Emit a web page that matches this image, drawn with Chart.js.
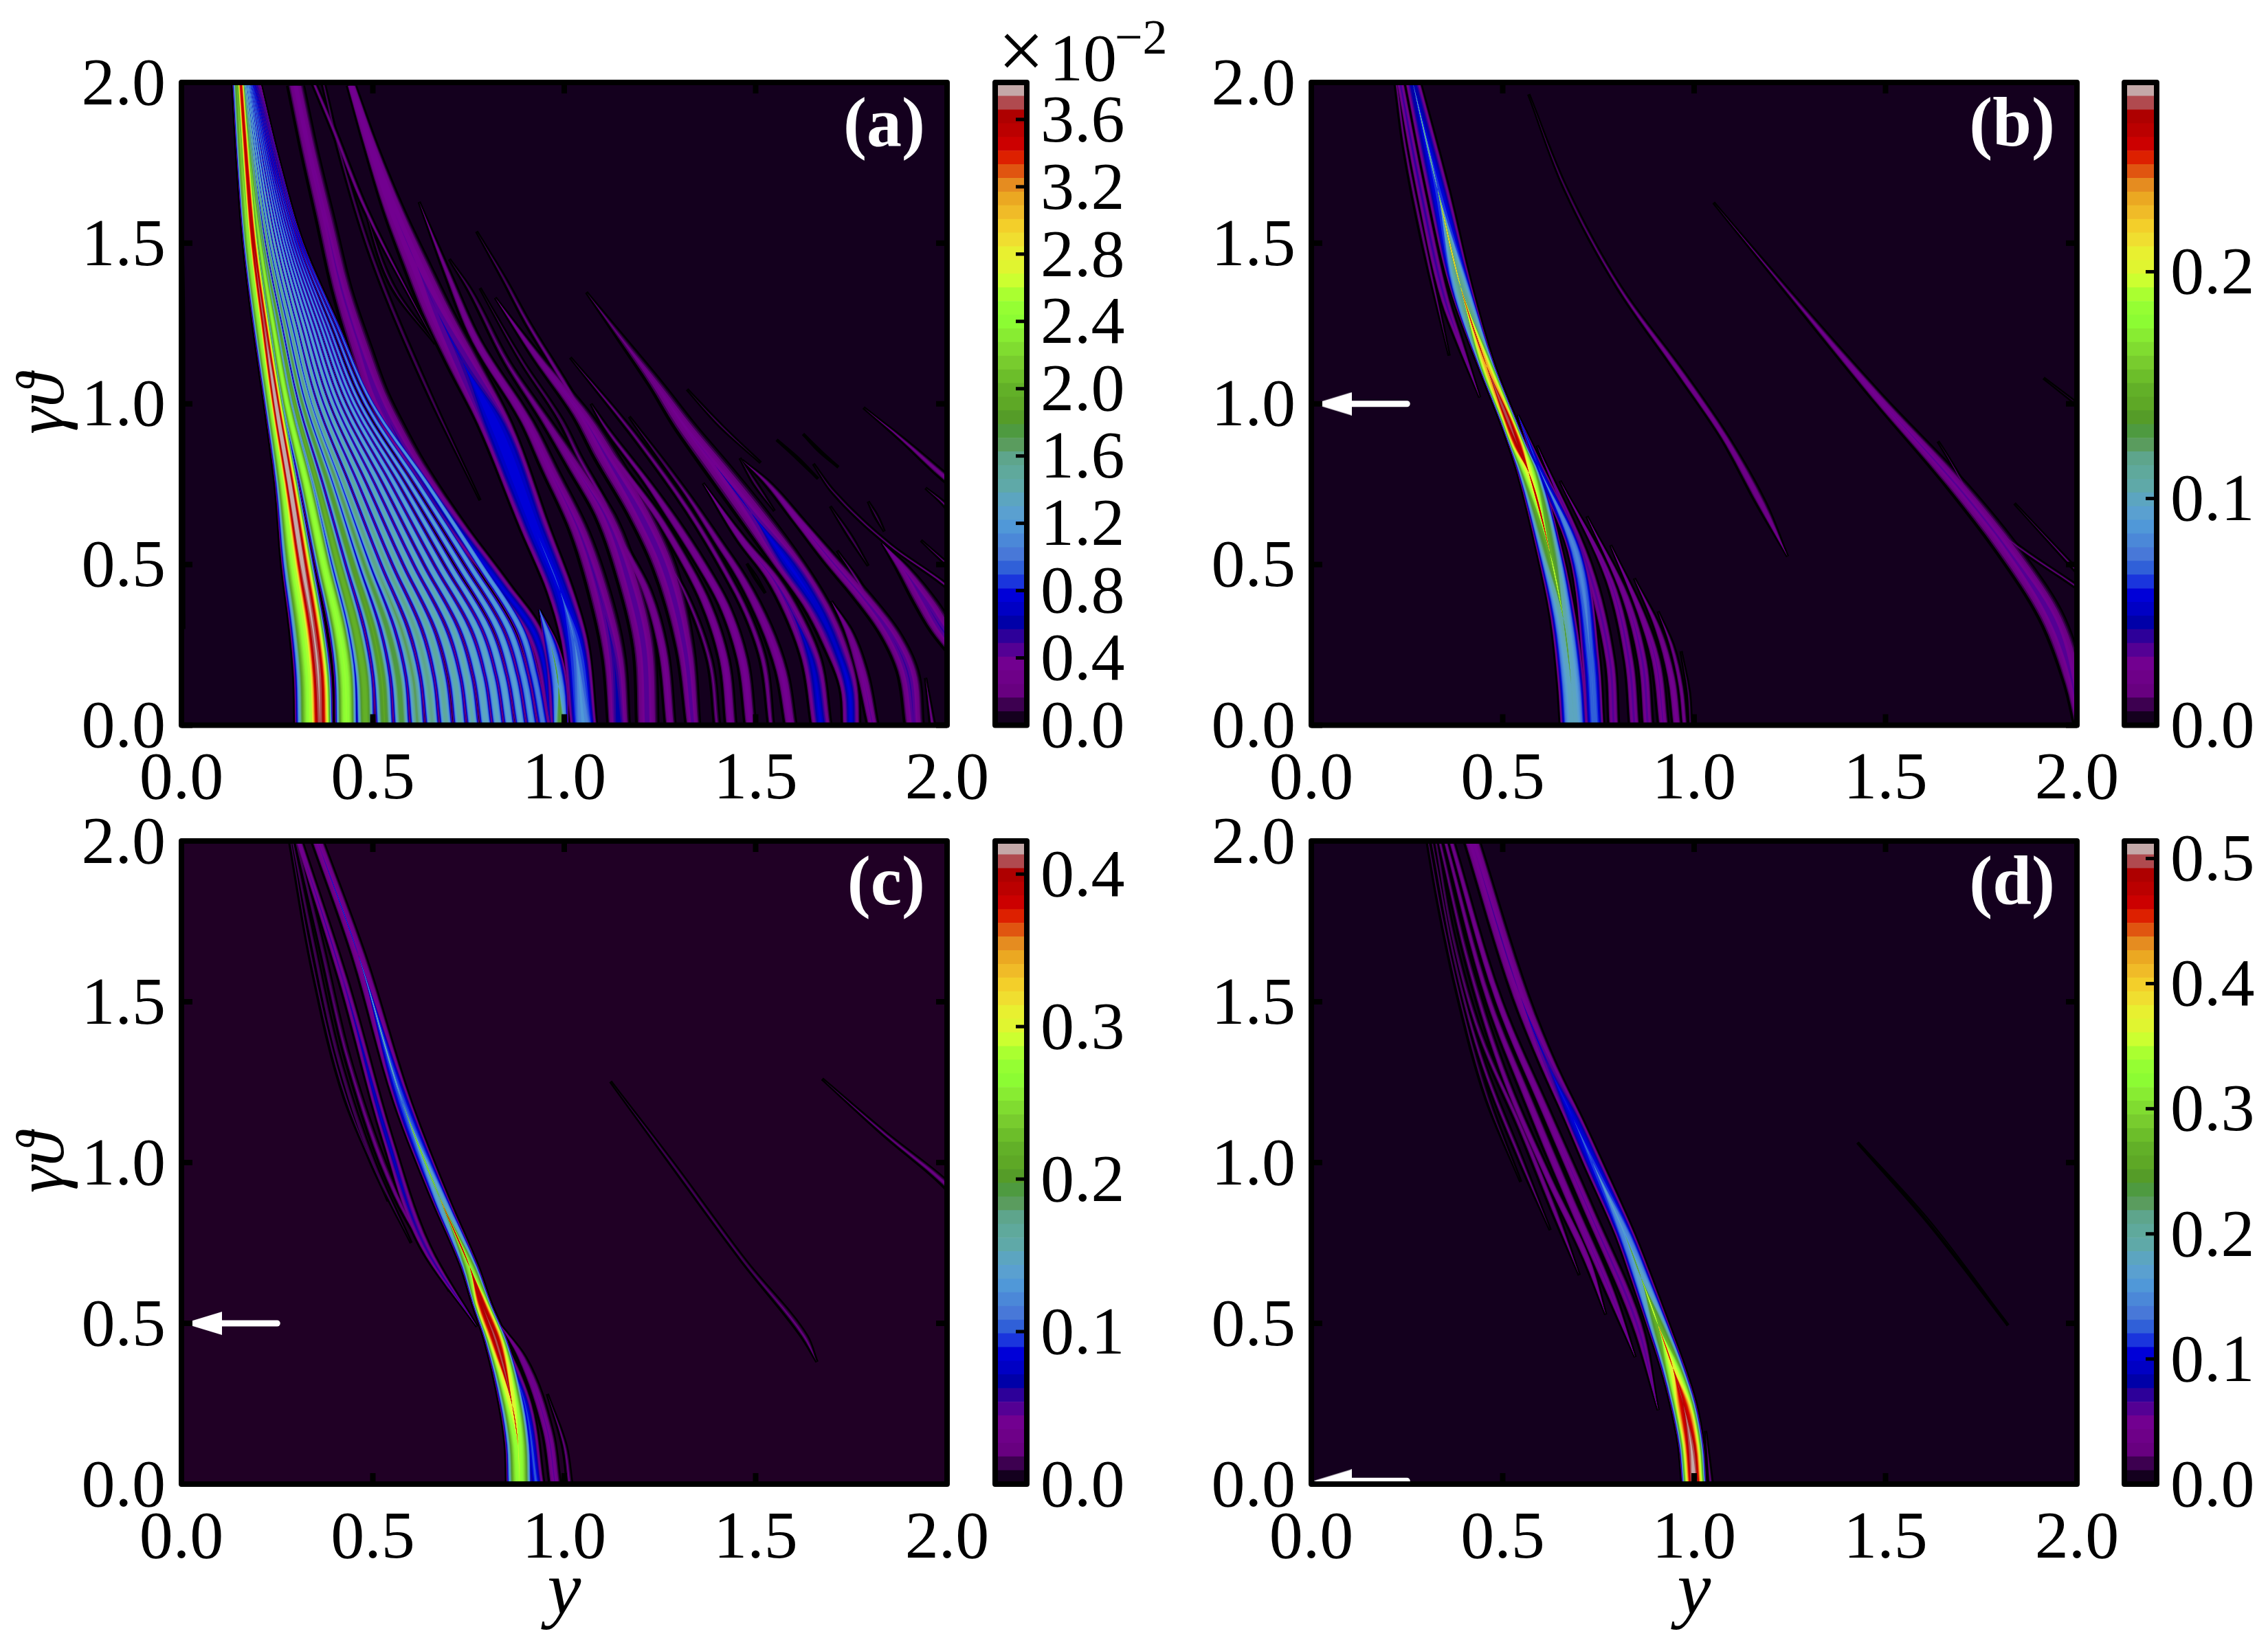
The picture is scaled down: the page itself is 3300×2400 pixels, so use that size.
<!DOCTYPE html>
<html>
<head>
  <title>Contour panels</title>
  <style>
    body { margin: 0; background: #fff; }
    canvas { position: absolute; }
    .txt { position: absolute; font-family: "Liberation Serif", serif; color: #000; white-space: nowrap; }
  </style>
</head>
<body>
  <div class="txt" style="left:1452px;top:14px;font-size:120px;line-height:120px">×</div>
  <div class="txt" style="left:1527px;top:35px;font-size:98px;line-height:98px">10</div>
  <div class="txt" style="left:1622px;top:18px;font-size:72px;line-height:72px">−2</div>

  <script src="https://cdn.jsdelivr.net/npm/chart.js"></script>
  <script>
    // contour palette, bottom to top of the colourbar
    const levelColors = ['#14001e','#3d0050','#680080','#6e0088','#720090','#540094','#2d0099','#0000a8','#0000c4','#0000d8',
      '#1a35dd','#3060d8','#4878d8','#4b88d8','#5098d8','#5aa0d0','#5ca5c0','#5fa9a8','#5fa99c','#5ea58c',
      '#5a9c5e','#4e9a40','#559c28','#5ea826','#62b028','#6cbe2a','#78cc2e','#80dc30','#88ec32','#8cfc33',
      '#95fe33','#aaff30','#ccff30','#e0f530','#e8f030','#f0de30','#f3cf2a','#f0bb28','#eba822','#e58c20',
      '#e05510','#dd2000','#cc0000','#bb0000','#ae0000','#b04a4f','#c4a8a8'];

    const axisTicks = [0, 0.5, 1, 1.5, 2];
    const barTicksA = [0, 0.4, 0.8, 1.2, 1.6, 2.0, 2.4, 2.8, 3.2, 3.6];
    const barTicksB = [0, 0.1, 0.2];
    const barTicksC = [0, 0.1, 0.2, 0.3, 0.4];
    const barTicksD = [0, 0.1, 0.2, 0.3, 0.4, 0.5];
    const barMax = [3.82, 0.2835, 0.4217, 0.514];
    const arrowTheta = [null, 1.0, 0.5, 0.01];

    // ridges: t = gamma theta, y = centre, w = half width, p = peak as fraction of the colourbar
    const fanT = [0, 0.15, 0.3, 0.5, 0.75, 1, 1.25, 1.5, 1.75, 2];
    const fanY = [
      [.346,.343,.329,.301,.270,.236,.204,.176,.158,.145],
      [.362,.358,.344,.316,.283,.247,.216,.188,.170,.155],
      [.431,.428,.411,.372,.327,.276,.239,.205,.180,.160],
      [.481,.476,.455,.410,.355,.296,.254,.214,.187,.164],
      [.531,.523,.499,.447,.384,.316,.269,.225,.193,.168],
      [.576,.566,.538,.478,.407,.333,.282,.234,.199,.172],
      [.617,.605,.574,.506,.427,.347,.294,.243,.205,.175],
      [.656,.642,.610,.536,.451,.364,.306,.252,.211,.178],
      [.692,.677,.644,.565,.473,.379,.318,.260,.217,.181],
      [.728,.713,.677,.593,.495,.395,.329,.268,.222,.184],
      [.762,.745,.709,.620,.516,.409,.340,.275,.227,.187],
      [.796,.778,.740,.647,.537,.424,.351,.282,.232,.190],
      [.827,.808,.770,.673,.557,.439,.362,.289,.237,.193],
      [.857,.837,.798,.699,.577,.452,.372,.296,.242,.196],
      [.887,.866,.827,.726,.597,.466,.382,.302,.246,.199],
      [.916,.894,.855,.752,.618,.482,.394,.309,.251,.202],
      [.945,.922,.885,.780,.642,.498,.405,.315,.255,.205]
    ];
    const fanW = [
      [.050,.050,.047,.040,.026,.020,.018,.015,.013,.012],
      [.034,.034,.032,.030,.024,.020,.016,.014,.012,.010],
      [.030,.030,.028,.024,.020,.015,.012,.009,.007,.006],
      [.025,.025,.023,.020,.015,.011,.008,.0055,.004,.0025],
      [.024,.024,.022,.019,.015,.010,.0077,.0053,.0036,.0024],
      [.022,.022,.020,.017,.013,.0095,.007,.0048,.0033,.0022],
      [.020,.020,.0185,.016,.012,.0086,.0064,.0044,.003,.002],
      [.019,.019,.0176,.015,.0116,.0082,.0061,.0042,.0029,.0019],
      [.018,.018,.0167,.0142,.011,.0077,.0058,.004,.0027,.0018],
      [.0175,.0175,.0162,.0138,.0107,.0075,.0056,.0039,.0026,.0018],
      [.017,.017,.0157,.0134,.0104,.0073,.0054,.0037,.0026,.0017],
      [.0165,.0165,.0153,.013,.01,.0071,.0053,.0036,.0025,.0017],
      [.016,.016,.0148,.0126,.0098,.0069,.0051,.0035,.0024,.0016],
      [.015,.015,.0139,.0119,.0092,.0065,.0048,.0033,.0023,.0015],
      [.015,.015,.0139,.0119,.0092,.0065,.0048,.0033,.0023,.0015],
      [.015,.015,.0139,.0119,.0092,.0065,.0048,.0033,.0023,.0015],
      [.015,.015,.0139,.0119,.0092,.0065,.0048,.0033,.0023,.0015]
    ];
    const fanP = [
      [.68,.68,.68,.68,.66,.64,.62,.6,.55,.5],
      [.97,.98,.98,.99,1,1,.97,.95,.93,.92],
      [.64,.64,.64,.64,.64,.63,.62,.6,.55,.5],
      [.52,.52,.52,.52,.51,.5,.48,.46,.44,.42],
      [.49,.49,.49,.48,.47,.46,.44,.43,.4,.38],
      [.46,.46,.46,.45,.44,.42,.41,.39,.36,.34],
      [.43,.43,.43,.42,.42,.4,.39,.37,.34,.32],
      [.41,.41,.41,.41,.4,.38,.37,.34,.3,.28],
      [.39,.39,.39,.39,.38,.37,.35,.32,.28,.26],
      [.38,.38,.38,.38,.37,.36,.34,.3,.27,.24],
      [.37,.37,.37,.37,.36,.35,.32,.29,.25,.22],
      [.36,.36,.36,.36,.35,.34,.31,.27,.23,.2],
      [.35,.35,.35,.35,.34,.33,.3,.25,.21,.18],
      [.34,.34,.34,.34,.33,.32,.29,.24,.2,.16],
      [.33,.33,.33,.33,.33,.31,.27,.22,.18,.14],
      [.31,.3,.32,.32,.32,.3,.26,.2,.16,.12],
      [.27,.27,.3,.31,.31,.29,.24,.19,.14,.1]
    ];

    const bandsA = [
      {t:[.3,.8,1.2,1.55], y:[.006,.002,.003,.002], w:[0,.004,.003,0], p:[.04,.08,.08,.03]},
      {t:[0,.278,.443,.608,.814,.945,1.037,1.18,1.358,1.572,1.785,1.99], y:[.965,.925,.828,.722,.603,.543,.507,.465,.418,.376,.334,.298], w:[.01,.024,.028,.03,.034,.034,.032,.03,.026,.024,.022,.021], p:[.12,.2,.2,.2,.14,.12,.12,.11,.11,.1,.1,.1]},
      {t:[1.187,1.6,1.88,2], y:[.663,.483,.388,.345], w:[0,.006,.006,.005], p:[.03,.06,.06,.06]},
      {t:[1.187,1.358,1.636], y:[.663,.555,.471], w:[0,.005,0], p:[.02,.03,.02]},
      {t:[.7,1.05,1.45,1.8,2], y:[.78,.64,.50,.41,.37], w:[0,.005,.005,.004,.003], p:[.03,.04,.04,.04,.04]},
      {t:[0,.264,.415,.608,.938,1.13,1.287,1.43,1.6,1.8,1.99], y:[1.05,1.026,.99,.925,.818,.735,.668,.615,.555,.495,.444], w:[.035,.036,.036,.04,.046,.046,.042,.036,.028,.018,.011], p:[.3,.24,.2,.2,.2,.13,.11,.1,.1,.1,.1]},
      {t:[0,.12,.25,.36], y:[.99,.985,.965,.935], w:[.022,.025,.02,0], p:[.47,.32,.28,.12]},
      {t:[0,.204,.347,.6,.8,.945,1.194,1.394,1.628], y:[1.142,1.13,1.106,1.04,.96,.902,.771,.699,.621], w:[.028,.03,.03,.026,.022,.018,.014,.009,0], p:[.17,.14,.12,.11,.1,.1,.09,.07,.03]},
      {t:[0,.24,.432,.653,.8,.95,1.13,1.36,1.45], y:[1.217,1.208,1.172,1.106,1.03,.95,.85,.75,.7], w:[.028,.029,.03,.028,.022,.014,.009,.005,0], p:[.12,.12,.12,.11,.09,.07,.05,.04,.03]},
      {t:[0,.24,.418,.56,.689,.83,.95,1.13,1.36], y:[1.277,1.256,1.214,1.154,1.106,1.04,.99,.89,.78], w:[.013,.014,.014,.012,.01,.008,.007,.005,0], p:[.09,.09,.08,.07,.06,.05,.04,.04,.03]},
      {t:[0,.24,.489,.66,.831,.966,1.144,1.33], y:[1.336,1.315,1.262,1.196,1.112,1.045,.93,.82], w:[.018,.024,.032,.034,.034,.026,.014,0], p:[.12,.12,.12,.12,.11,.1,.08,.03]},
      {t:[0,.2,.4,.62], y:[1.399,1.38,1.32,1.22], w:[.007,.007,.006,0], p:[.05,.05,.05,.03]},
      {t:[0,.204,.382,.546,.66,.774,.93,1.123,1.25,1.394,1.536], y:[1.435,1.417,1.369,1.297,1.238,1.166,1.07,.97,.905,.84,.771], w:[.014,.014,.014,.013,.012,.012,.011,.008,.007,.005,0], p:[.1,.1,.09,.08,.08,.08,.07,.06,.05,.04,.03]},
      {t:[0,.204,.375,.503,.646,.76,.93,1.0], y:[1.486,1.465,1.417,1.357,1.28,1.214,1.106,1.07], w:[.014,.015,.015,.015,.014,.01,.006,0], p:[.1,.1,.1,.09,.08,.07,.05,.03]},
      {t:[0,.204,.347,.468,.667,.881,.995,1.144], y:[1.54,1.519,1.477,1.425,1.325,1.196,1.12,1.016], w:[.007,.009,.009,.009,.009,.008,.006,0], p:[.06,.06,.06,.06,.06,.05,.05,.03]},
      {t:[0,.169,.311,.454,.575,.717,.831,.96], y:[1.591,1.567,1.525,1.465,1.399,1.32,1.25,1.17], w:[.015,.016,.016,.014,.012,.008,.006,0], p:[.1,.1,.09,.08,.07,.05,.04,.03]},
      {t:[0,.204,.347,.46,.575,.753], y:[1.671,1.645,1.597,1.543,1.465,1.363], w:[.026,.027,.024,.02,.014,0], p:[.2,.18,.13,.11,.09,.03]},
      {t:[0,.097,.261,.375,.503,.66,.81,.93,1.059,1.194,1.347], y:[1.749,1.746,1.704,1.657,1.585,1.489,1.393,1.315,1.24,1.155,1.058], w:[.023,.024,.034,.038,.044,.044,.038,.03,.02,.011,0], p:[.2,.2,.18,.19,.2,.12,.1,.09,.07,.05,.03]},
      {t:[0,.169,.297,.386], y:[1.806,1.776,1.74,1.698], w:[.014,.016,.011,0], p:[.11,.1,.08,.03]},
      {t:[0,.169,.29,.404,.503,.632,.76,.824], y:[1.914,1.896,1.848,1.776,1.704,1.615,1.525,1.465], w:[.024,.028,.028,.026,.023,.016,.009,0], p:[.12,.13,.12,.11,.11,.1,.06,.03]},
      {t:[.33,.454,.543], y:[1.82,1.764,1.713], w:[.01,.006,0], p:[.06,.05,.03]},
      {t:[.15,.29,.382,.489,.567], y:[2.09,1.992,1.944,1.884,1.83], w:[.034,.034,.032,.018,0], p:[.13,.13,.12,.1,.03]},
      {t:[.36,.44,.56,.724,.813], y:[2.07,1.992,1.85,1.704,1.651], w:[.006,.006,.005,.004,0], p:[.06,.06,.05,.04,.03]},
      {t:[.65,.774,.888,.988], y:[2.12,1.992,1.884,1.782], w:[.014,.014,.007,0], p:[.07,.07,.06,.03]},
      {t:[.6,.689,.738], y:[2.05,1.992,1.944], w:[.005,.005,0], p:[.05,.05,.03]},
      {t:[.45,.51,.575], y:[2.05,1.992,1.932], w:[.004,.004,0], p:[.05,.05,.03]},
      {t:[.496,.59,.681], y:[1.794,1.745,1.695], w:[0,.005,0], p:[.03,.04,.03]},
      {t:[.603,.65,.696], y:[1.836,1.815,1.794], w:[0,.004,0], p:[.03,.03,.03]},
      {t:[.667,.75,.831], y:[1.549,1.5,1.459], w:[0,.005,0], p:[.03,.04,.03]},
      {t:[.817,.93,1.045], y:[1.513,1.41,1.321], w:[0,.004,0], p:[.03,.04,.03]},
      {t:[.767,.83,.888], y:[1.663,1.61,1.555], w:[0,.002,0], p:[.02,.02,.02]},
      {t:[.803,.85,.906], y:[1.716,1.67,1.624], w:[0,.002,0], p:[.02,.02,.02]},
      {t:[.411,.46,.503], y:[1.525,1.5,1.477], w:[0,.003,0], p:[.02,.02,.02]},
      {t:[0,.147], y:[1.962,1.944], w:[.006,0], p:[.06,.03]}
    ];

    const bandsB = [
      {t:[0,.127,.333,.539,.787,.869,.952,1.117,1.364,1.667,2], y:[.686,.679,.658,.623,.568,.54,.513,.458,.39,.33,.265], w:[.036,.036,.034,.034,.03,.024,.022,.022,.03,.03,.02], p:[.36,.36,.38,.5,.72,.95,.97,.82,.42,.22,.17]},
      {t:[1.02,1.2,1.32,1.667,2], y:[.44,.385,.35,.285,.232], w:[0,.009,.012,.012,.01], p:[.03,.1,.13,.14,.13]},
      {t:[1.15,1.5,1.8,2], y:[.36,.295,.245,.222], w:[0,.006,.005,.004], p:[.03,.05,.05,.05]},
      {t:[0,.2,.54,.814,.965], y:[.74,.73,.69,.59,.54], w:[.024,.024,.02,.012,0], p:[.25,.25,.28,.2,.03]},
      {t:[0,.2,.5,.87], y:[.79,.78,.72,.59], w:[.013,.013,.013,0], p:[.12,.12,.12,.03]},
      {t:[0,.2,.45,.76], y:[.844,.83,.78,.65], w:[.013,.013,.011,0], p:[.12,.12,.11,.03]},
      {t:[0,.2,.4,.65], y:[.879,.865,.82,.72], w:[.013,.013,.011,0], p:[.12,.12,.1,.03]},
      {t:[0,.2,.35,.56], y:[.92,.90,.86,.782], w:[.013,.013,.01,0], p:[.11,.11,.1,.03]},
      {t:[0,.15,.3,.457], y:[.955,.94,.905,.844], w:[.011,.011,.009,0], p:[.1,.1,.08,.03]},
      {t:[0,.12,.25,.354], y:[.975,.965,.94,.906], w:[.007,.007,.006,0], p:[.07,.07,.06,.03]},
      {t:[0,.1,.23], y:[.99,.985,.966], w:[.003,.003,0], p:[.04,.04,.03]},
      {t:[.525,.69,.897,1.09,1.364,1.667,1.963], y:[1.244,1.175,1.079,.968,.803,.665,.568], w:[0,.013,.011,.011,.006,.004,0], p:[.03,.08,.08,.08,.05,.04,.03]},
      {t:[0,.127,.333,.539,.746,1.02,1.35,1.626], y:[2.0,1.989,1.934,1.823,1.686,1.479,1.244,1.051], w:[.007,.022,.034,.034,.03,.018,.007,0], p:[.05,.11,.12,.11,.11,.1,.05,.03]},
      {t:[.43,.6,.883], y:[2.0,1.8,1.637], w:[.006,.006,0], p:[.05,.05,.03]},
      {t:[.48,.69], y:[2.0,1.837], w:[.005,0], p:[.05,.03]},
      {t:[1.0,1.08], y:[2.0,1.913], w:[.003,0], p:[.03,.03]}
    ];

    const bandsC = [
      {t:[0,.12,.247,.445,.56,.675,.89,1.186,1.646,2], y:[.883,.8795,.864,.822,.785,.753,.675,.578,.462,.355], w:[.034,.034,.034,.03,.025,.023,.023,.023,.018,.015], p:[.64,.66,.72,.96,.95,.62,.37,.24,.1,.09]},
      {t:[.49,.74,1.07,1.565,2], y:[.772,.636,.539,.423,.306], w:[0,.014,.014,.012,.009], p:[.03,.14,.18,.12,.1]},
      {t:[.6,.9,1.3,1.7,2], y:[.70,.56,.44,.36,.30], w:[0,.008,.007,.006,.005], p:[.03,.06,.05,.04,.04]},
      {t:[.75,1,1.3,1.7,2], y:[.60,.50,.415,.34,.29], w:[0,.006,.006,.005,.004], p:[.03,.04,.04,.04,.03]},
      {t:[.88,1.2,1.6,2], y:[.54,.43,.345,.285], w:[0,.005,.004,.003], p:[.03,.03,.03,.03]},
      {t:[0,.247,.41,.5], y:[.927,.898,.85,.82], w:[.02,.018,.012,0], p:[.24,.22,.16,.03]},
      {t:[0,.165,.395,.5], y:[.976,.956,.888,.83], w:[.014,.014,.011,0], p:[.11,.11,.09,.03]},
      {t:[0,.12,.28], y:[1.014,1.0,.956], w:[.006,.005,0], p:[.05,.05,.03]},
      {t:[.38,.461,.692,1.005,1.252], y:[1.66,1.626,1.47,1.276,1.121], w:[0,.008,.006,.005,0], p:[.03,.05,.04,.04,.03]},
      {t:[.8,.94,1.087,1.26], y:[2.1,1.99,1.839,1.674], w:[.012,.012,.007,0], p:[.06,.06,.05,.03]}
    ];

    const bandsD = [
      {t:[0,.12,.247,.36,.494,.64,.774,1.0,1.137,1.3,1.515,2], y:[1.0,.992,.972,.945,.906,.862,.82,.735,.684,.62,.547,.419], w:[.032,.033,.034,.032,.03,.028,.026,.026,.024,.022,.022,.02], p:[1,.98,.92,.72,.52,.36,.3,.22,.2,.13,.1,.1]},
      {t:[.23,.5,.85,1.15,1.5,2], y:[.906,.85,.725,.615,.49,.365], w:[0,.014,.015,.013,.01,.007], p:[.03,.12,.11,.1,.09,.07]},
      {t:[.395,.6,.9,1.2,1.5,2], y:[.846,.78,.67,.565,.465,.35], w:[0,.012,.013,.012,.009,.006], p:[.03,.11,.1,.09,.07,.06]},
      {t:[.527,.7,.95,1.25,1.6,2], y:[.769,.72,.62,.51,.415,.335], w:[0,.01,.01,.009,.007,.005], p:[.03,.1,.09,.07,.05,.05]},
      {t:[.65,.85,1.1,1.4,1.7,2], y:[.70,.635,.55,.44,.37,.325], w:[0,.008,.008,.007,.005,.004], p:[.03,.07,.06,.05,.04,.04]},
      {t:[.79,1,1.3,1.6,2], y:[.624,.55,.45,.38,.315], w:[0,.006,.006,.005,.004], p:[.03,.05,.05,.04,.03]},
      {t:[.94,1.2,1.5,1.8,2], y:[.547,.46,.39,.335,.305], w:[0,.005,.005,.004,.003], p:[.03,.03,.03,.03,.03]},
      {t:[0,.165], y:[1.043,1.03], w:[.005,0], p:[.05,.03]},
      {t:[.494,.823,1.062], y:[1.82,1.607,1.427], w:[0,.003,0], p:[.02,.02,.02]}
    ];

    const fanBands = fanY.map((y, i) => ({t: fanT, y: y, w: fanW[i], p: fanP[i]}));

    const panelLabels = ['(a)', '(b)', '(c)', '(d)'];
    const panelBack = ['#14001e', '#14001e', '#200025', '#14001e'];
    const panelBands = [fanBands.concat(bandsA), bandsB, bandsC, bandsD];
    const barTicks = [barTicksA, barTicksB, barTicksC, barTicksD];

    const FONT = '"Liberation Serif", serif';
    const tickFont = {family: FONT, size: 98};

    function addCanvas(left, top, w, h) {
      const c = document.createElement('canvas');
      c.width = w; c.height = h;
      c.style.left = left + 'px'; c.style.top = top + 'px';
      document.body.appendChild(c);
      return c;
    }

    // one pair of edges per contour level, highest level first because
    // Chart.js paints dataset 0 last
    function ridgeDatasets(bands, backColor) {
      const out = [];
      for (let lev = levelColors.length - 1; lev >= 0; lev--) {
        const frac = lev / levelColors.length;
        bands.forEach(b => {
          const top = Math.max(...b.p);
          if (top <= frac) return;
          // weak ridges keep a dark rim, strong ones are flatter on top
          const power = top < 0.25 ? 0.7 : 0.42;
          const half = b.w.map((w, k) => w * Math.pow(Math.max(0, 1 - frac / b.p[k]), power));
          const left = b.t.map((t, k) => ({x: b.y[k] - half[k], y: t}));
          const right = b.t.map((t, k) => ({x: b.y[k] + half[k], y: t}));
          const color = lev === 0 ? backColor : levelColors[lev];
          const edge = {
            pointRadius: 0, cubicInterpolationMode: 'monotone',
            borderWidth: lev === 0 ? 4.5 : 0, borderColor: '#000', backgroundColor: color
          };
          out.push(Object.assign({data: left, fill: '+1'}, edge));
          out.push(Object.assign({data: right, fill: false}, edge));
        });
      }
      return out;
    }

    function arrowDatasets(theta) {
      if (theta === null) return [];
      const head = document.createElement('canvas');
      head.width = 56; head.height = 34;
      const g = head.getContext('2d');
      g.fillStyle = '#fff';
      g.beginPath(); g.moveTo(0, 17); g.lineTo(56, 0); g.lineTo(56, 34); g.closePath(); g.fill();
      return [
        {data: [{x: 0.056, y: theta}], pointStyle: head, pointRadius: 10, showLine: false, fill: false},
        {data: [{x: 0.25, y: theta}, {x: 0.08, y: theta}], borderColor: '#fff', borderWidth: 9, borderCapStyle: 'round', pointRadius: 0, fill: false}
      ];
    }

    function framePlugin(label, back) {
      return {
        id: 'frame',
        beforeDraw(chart) {
          const a = chart.chartArea;
          chart.ctx.fillStyle = back;
          chart.ctx.fillRect(a.left, a.top, a.right - a.left, a.bottom - a.top);
        },
        afterDraw(chart) {
          const {ctx, chartArea: a, scales} = chart;
          ctx.save();
          ctx.fillStyle = '#000';
          scales.x.ticks.forEach(t => {
            const px = scales.x.getPixelForValue(t.value);
            ctx.fillRect(px - 4, a.bottom - 16, 8, 16);
            ctx.fillRect(px - 4, a.top, 8, 16);
          });
          scales.y.ticks.forEach(t => {
            const py = scales.y.getPixelForValue(t.value);
            ctx.fillRect(a.left, py - 4, 16, 8);
            ctx.fillRect(a.right - 16, py - 4, 16, 8);
          });
          ctx.strokeStyle = '#000';
          ctx.lineWidth = 8;
          ctx.lineJoin = 'round';
          ctx.strokeRect(a.left, a.top, a.right - a.left, a.bottom - a.top);
          ctx.fillStyle = '#fff';
          ctx.font = 'bold 102px ' + FONT;
          ctx.textAlign = 'right';
          ctx.textBaseline = 'middle';
          ctx.fillText(label, a.right - 32, a.top + 66);
          ctx.restore();
        }
      };
    }

    function drawPanel(i, box) {
      const canvas = addCanvas(box.left, box.top, box.w, box.h);
      new Chart(canvas.getContext('2d'), {
        type: 'line',
        data: {datasets: arrowDatasets(arrowTheta[i]).concat(ridgeDatasets(panelBands[i], panelBack[i]))},
        plugins: [framePlugin(panelLabels[i], panelBack[i])],
        options: {
          responsive: false, animation: false, devicePixelRatio: 1, events: [],
          indexAxis: 'y',
          layout: {padding: {top: box.padTop, right: box.padRight, left: 0, bottom: 0}},
          plugins: {legend: {display: false}, tooltip: {enabled: false}},
          scales: {
            x: {
              type: 'linear', min: 0, max: 2, position: 'bottom',
              grid: {display: false}, border: {display: false},
              afterBuildTicks: s => { s.ticks = axisTicks.map(v => ({value: v})); },
              afterFit: s => { s.height = box.xHeight; },
              ticks: {font: tickFont, color: '#000', padding: 14, maxRotation: 0, autoSkip: false, callback: v => v.toFixed(1)},
              title: {display: box.xTitle, text: 'y', color: '#000', font: {family: FONT, size: 110, style: 'italic'}, padding: {top: 0, bottom: 14}}
            },
            y: {
              type: 'linear', min: 0, max: 2, position: 'left',
              grid: {display: false}, border: {display: false},
              afterBuildTicks: s => { s.ticks = axisTicks.map(v => ({value: v})); },
              afterFit: s => { s.width = box.yWidth; },
              ticks: {font: tickFont, color: '#000', padding: 15, labelOffset: 6, autoSkip: false, callback: v => v.toFixed(1)},
              title: {display: box.yTitle, text: 'γϑ', color: '#000', font: {family: FONT, size: 100, style: 'italic'}, padding: {top: 6, bottom: 0}}
            }
          }
        }
      });
    }

    function drawBar(i, box) {
      const canvas = addCanvas(box.left, box.top, box.w, box.h);
      const step = barMax[i] / levelColors.length;
      const datasets = levelColors.map(c => ({data: [step], backgroundColor: c, borderWidth: 0, barPercentage: 1, categoryPercentage: 1}));
      new Chart(canvas.getContext('2d'), {
        type: 'bar',
        data: {labels: [''], datasets: datasets},
        plugins: [{
          id: 'barFrame',
          afterDraw(chart) {
            const {ctx, chartArea: a, scales} = chart;
            ctx.save();
            ctx.fillStyle = '#000';
            scales.y.ticks.forEach(t => {
              const py = scales.y.getPixelForValue(t.value);
              ctx.fillRect(a.right - 16, py - 2.5, 16, 5);
            });
            ctx.strokeStyle = '#000';
            ctx.lineWidth = 8;
            ctx.lineJoin = 'round';
            ctx.strokeRect(a.left, a.top, a.right - a.left, a.bottom - a.top);
            ctx.restore();
          }
        }],
        options: {
          responsive: false, animation: false, devicePixelRatio: 1, events: [],
          layout: {padding: {top: box.padTop, left: box.padLeft, right: 0, bottom: box.padBottom}},
          plugins: {legend: {display: false}, tooltip: {enabled: false}},
          scales: {
            x: {stacked: true, display: false},
            y: {
              stacked: true, type: 'linear', position: 'right', min: 0, max: barMax[i],
              grid: {display: false}, border: {display: false},
              afterBuildTicks: s => { s.ticks = barTicks[i].map(v => ({value: v})); },
              afterFit: s => { s.width = box.axisWidth; },
              ticks: {font: tickFont, color: '#000', padding: 12, labelOffset: 6, autoSkip: false, callback: v => v.toFixed(1)}
            }
          }
        }
      });
    }

    drawPanel(0, {left: 0, top: 20, w: 1458, h: 1180, padTop: 100, padRight: 80, xHeight: 144.5, yWidth: 264, xTitle: false, yTitle: true});
    drawPanel(1, {left: 1650, top: 20, w: 1452, h: 1180, padTop: 100, padRight: 80, xHeight: 144.5, yWidth: 258, xTitle: false, yTitle: false});
    drawPanel(2, {left: 0, top: 1124, w: 1458, h: 1276, padTop: 100, padRight: 80, xHeight: 240, yWidth: 264, xTitle: true, yTitle: true});
    drawPanel(3, {left: 1650, top: 1124, w: 1452, h: 1276, padTop: 100, padRight: 80, xHeight: 240, yWidth: 258, xTitle: true, yTitle: false});

    drawBar(0, {left: 1400, top: 20, w: 300, h: 1140, padTop: 100, padLeft: 48, padBottom: 104.5, axisWidth: 206});
    drawBar(1, {left: 3041, top: 20, w: 259, h: 1140, padTop: 100, padLeft: 50, padBottom: 104.5, axisWidth: 162});
    drawBar(2, {left: 1400, top: 1124, w: 300, h: 1140, padTop: 100, padLeft: 48, padBottom: 104, axisWidth: 206});
    drawBar(3, {left: 3041, top: 1124, w: 259, h: 1140, padTop: 100, padLeft: 50, padBottom: 104, axisWidth: 162});
  </script>
</body>
</html>
